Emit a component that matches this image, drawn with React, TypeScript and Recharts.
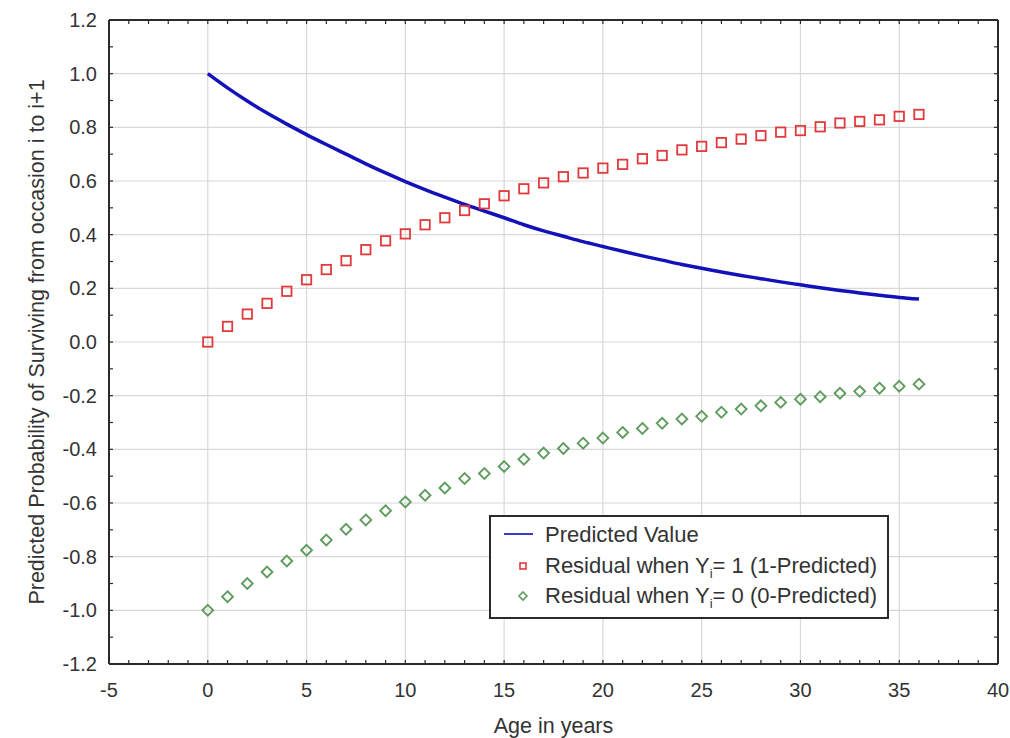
import React from 'react';
import { ComposedChart, Line, Scatter, XAxis, YAxis, CartesianGrid, Legend } from 'recharts';

const FONT = '"Liberation Sans", Arial, sans-serif';

const ages = [0, 1, 2, 3, 4, 5, 6, 7, 8, 9, 10, 11, 12, 13, 14, 15, 16, 17, 18, 19, 20, 21, 22, 23, 24, 25, 26, 27, 28, 29, 30, 31, 32, 33, 34, 35, 36];
const predictedValue = [1.0, 0.947, 0.898, 0.853, 0.812, 0.773, 0.736, 0.7, 0.664, 0.63, 0.598, 0.568, 0.54, 0.513, 0.488, 0.463, 0.437, 0.414, 0.394, 0.374, 0.356, 0.338, 0.321, 0.305, 0.289, 0.275, 0.261, 0.248, 0.236, 0.224, 0.213, 0.202, 0.192, 0.183, 0.174, 0.166, 0.16];
const residualY1 = [0.0, 0.058, 0.104, 0.144, 0.189, 0.232, 0.27, 0.303, 0.344, 0.377, 0.403, 0.437, 0.463, 0.49, 0.515, 0.545, 0.571, 0.593, 0.616, 0.63, 0.648, 0.662, 0.683, 0.695, 0.716, 0.729, 0.743, 0.756, 0.769, 0.782, 0.788, 0.802, 0.816, 0.822, 0.828, 0.841, 0.848];
const residualY0 = [-1.0, -0.949, -0.9, -0.857, -0.816, -0.776, -0.738, -0.698, -0.663, -0.629, -0.596, -0.571, -0.544, -0.509, -0.49, -0.464, -0.437, -0.414, -0.397, -0.377, -0.358, -0.337, -0.322, -0.303, -0.287, -0.277, -0.262, -0.25, -0.238, -0.225, -0.213, -0.204, -0.191, -0.184, -0.172, -0.165, -0.157];

const xMajorTicks = [-5, 0, 5, 10, 15, 20, 25, 30, 35, 40];
const xMinorTicks = [-5, -4, -3, -2, -1, 0, 1, 2, 3, 4, 5, 6, 7, 8, 9, 10, 11, 12, 13, 14, 15, 16, 17, 18, 19, 20, 21, 22, 23, 24, 25, 26, 27, 28, 29, 30, 31, 32, 33, 34, 35, 36, 37, 38, 39, 40];
const yMajorTicks = [-1.2, -1.0, -0.8, -0.6, -0.4, -0.2, 0.0, 0.2, 0.4, 0.6, 0.8, 1.0, 1.2];
const yMinorTicks = [-1.2, -1.1, -1.0, -0.9, -0.8, -0.7, -0.6, -0.5, -0.4, -0.3, -0.2, -0.1, 0.0, 0.1, 0.2, 0.3, 0.4, 0.5, 0.6, 0.7, 0.8, 0.9, 1.0, 1.1, 1.2];

const rows = ages.map((age, i) => ({
  age,
  pred: predictedValue[i],
  res1: residualY1[i],
  res0: residualY0[i],
}));

const BLUE = '#1212b8';
const RED = '#e23a3c';
const GREEN = '#5f9d5f';
const AXIS = '#2b2b2b';
const TEXT = '#333333';

const isMajor = (v: number, list: number[]) => list.some((m) => Math.abs(m - v) < 1e-6);

const SquareShape = (props: any) => {
  const { cx, cy } = props;
  if (cx == null || cy == null) return <g />;
  return <rect x={cx - 4.7} y={cy - 4.7} width={9.4} height={9.4} fill="none" stroke={RED} strokeWidth={1.8} />;
};

const DiamondShape = (props: any) => {
  const { cx, cy } = props;
  if (cx == null || cy == null) return <g />;
  const r = 5.4;
  return (
    <polygon
      points={`${cx},${cy - r} ${cx + r},${cy} ${cx},${cy + r} ${cx - r},${cy}`}
      fill="none"
      stroke={GREEN}
      strokeWidth={1.9}
    />
  );
};

const EmptyTick = () => <g />;

const LegendBox = () => (
  <div
    style={{
      boxSizing: 'border-box',
      width: 400,
      height: 104,
      border: `2px solid ${AXIS}`,
      background: '#fff',
      paddingTop: 3,
      fontFamily: FONT,
      fontSize: 22,
      color: TEXT,
      lineHeight: '24px',
      whiteSpace: 'nowrap',
    }}
  >
    <div style={{ display: 'flex', alignItems: 'center', height: 30.6 }}>
      <svg width={54} height={20}>
        <line x1={13} y1={9} x2={42} y2={9} stroke="#3a3ad0" strokeWidth={2} />
      </svg>
      <span>Predicted Value</span>
    </div>
    <div style={{ display: 'flex', alignItems: 'center', height: 30.6 }}>
      <svg width={54} height={20}>
        <rect x={29} y={7} width={6} height={6} fill="none" stroke={RED} strokeWidth={1.6} />
      </svg>
      <span>
        Residual when Y<sub style={{ fontSize: 13, lineHeight: 0 }}>i</sub>= 1 (1-Predicted)
      </span>
    </div>
    <div style={{ display: 'flex', alignItems: 'center', height: 30.6 }}>
      <svg width={54} height={20}>
        <polygon points="32,6 36,10 32,14 28,10" fill="none" stroke={GREEN} strokeWidth={1.6} />
      </svg>
      <span>
        Residual when Y<sub style={{ fontSize: 13, lineHeight: 0 }}>i</sub>= 0 (0-Predicted)
      </span>
    </div>
  </div>
);

const tickStyle = { fontSize: 20, fill: TEXT, fontFamily: FONT };
const tickLineStyle = { stroke: AXIS, strokeWidth: 1.2 };

export default function App() {
  return (
    <div style={{ width: 1010, height: 738, background: '#fff' }}>
      <style>{'body{margin:0;background:#fff}'}</style>
      <ComposedChart
        width={1010}
        height={738}
        data={rows}
        margin={{ top: 20, right: 12, left: 0, bottom: 0 }}
        style={{ fontFamily: FONT }}
      >
        <CartesianGrid
          verticalValues={xMajorTicks}
          horizontalValues={yMajorTicks}
          stroke="#d8d8d8"
          strokeWidth={1.2}
        />
        <XAxis
          dataKey="age"
          type="number"
          domain={[-5, 40]}
          ticks={xMinorTicks}
          interval={0}
          allowDataOverflow
          height={74}
          tickSize={-4}
          tickMargin={23}
          tickLine={tickLineStyle}
          axisLine={{ stroke: AXIS, strokeWidth: 2 }}
          tick={tickStyle}
          tickFormatter={(v: number) => (isMajor(v, xMajorTicks) ? String(v) : '')}
          label={{
            content: (p: any) => {
              const vb = p.viewBox || { x: 109, y: 664, width: 889, height: 74 };
              const x = vb.x + vb.width / 2;
              const y = vb.y + vb.height - 5;
              return (
                <text x={x} y={y} textAnchor="middle" fontSize={21.5} fill={TEXT} fontFamily={FONT}>
                  Age in years
                </text>
              );
            },
          }}
        />
        <XAxis
          xAxisId="top"
          dataKey="age"
          type="number"
          orientation="top"
          mirror
          domain={[-5, 40]}
          ticks={xMinorTicks}
          interval={0}
          allowDataOverflow
          height={10}
          tickSize={4}
          tick={<EmptyTick />}
          tickLine={tickLineStyle}
          axisLine={{ stroke: AXIS, strokeWidth: 2 }}
        />
        <YAxis
          type="number"
          domain={[-1.2, 1.2]}
          ticks={yMinorTicks}
          interval={0}
          allowDataOverflow
          width={109}
          tickSize={-4}
          tickMargin={16}
          tickLine={tickLineStyle}
          axisLine={{ stroke: AXIS, strokeWidth: 2 }}
          tick={tickStyle}
          tickFormatter={(v: number) => (isMajor(v, yMajorTicks) ? v.toFixed(1) : '')}
          label={{
            content: (p: any) => {
              const vb = p.viewBox || { x: 0, y: 20, width: 109, height: 644 };
              const x = vb.x + 44;
              const y = vb.y + vb.height / 2;
              return (
                <text
                  x={x}
                  y={y}
                  transform={`rotate(-90 ${x} ${y})`}
                  textAnchor="middle"
                  fontSize={21.5}
                  fill={TEXT}
                  fontFamily={FONT}
                >
                  Predicted Probability of Surviving from occasion i to i+1
                </text>
              );
            },
          }}
        />
        <YAxis
          yAxisId="right"
          type="number"
          orientation="right"
          mirror
          domain={[-1.2, 1.2]}
          ticks={yMinorTicks}
          interval={0}
          allowDataOverflow
          width={10}
          tickSize={4}
          tick={<EmptyTick />}
          tickLine={tickLineStyle}
          axisLine={{ stroke: AXIS, strokeWidth: 2 }}
        />
        <Line
          xAxisId="top"
          yAxisId="right"
          dataKey="pred"
          stroke="none"
          dot={false}
          activeDot={false}
          legendType="none"
          isAnimationActive={false}
        />
        <Line
          dataKey="pred"
          type="monotone"
          stroke={BLUE}
          strokeWidth={3.5}
          dot={false}
          activeDot={false}
          isAnimationActive={false}
        />
        <Scatter dataKey="res1" shape={SquareShape} isAnimationActive={false} />
        <Scatter dataKey="res0" shape={DiamondShape} isAnimationActive={false} />
        <Legend
          layout="horizontal"
          verticalAlign="middle"
          align="center"
          content={() => <LegendBox />}
          wrapperStyle={{ left: 489, top: 515, width: 400, height: 104 }}
        />
      </ComposedChart>
    </div>
  );
}
